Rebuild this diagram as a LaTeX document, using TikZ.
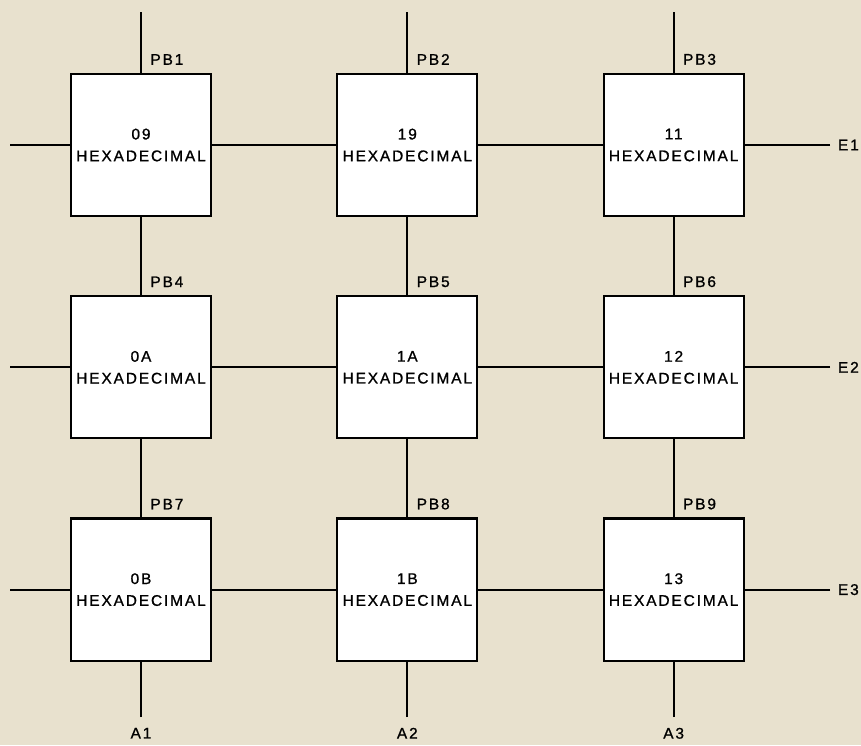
\documentclass[tikz,border=0pt]{standalone}
\usepackage{fontspec}
\newfontfamily\hexfont[LetterSpace=12,FakeBold=1]{Liberation Sans}
\usetikzlibrary{positioning}
\definecolor{paper}{RGB}{232,225,206}
\tikzset{hexbox/.style={draw,fill=white,line width=1.6pt,minimum width=3.5cm,minimum height=3.55cm,inner sep=0pt,align=center,font=\hexfont\fontsize{11}{15.5}\selectfont},
	lbl/.style={font=\hexfont\fontsize{11}{12}\selectfont,inner sep=1pt}}

\begin{document}
\begin{tikzpicture}[x=0.025cm,y=-0.025cm,line width=1.4pt,node distance=1.95cm and 3.1cm]
	\fill[paper] (0,0) rectangle (861,745);
	\useasboundingbox (0,0) rectangle (861,745);

	% the nine boxes
	\node[hexbox] (b09) at (141,145) {09\\HEXADECIMAL};
	\node[hexbox,right=of b09] (b19) {19\\HEXADECIMAL};
	\node[hexbox,right=of b19] (b11) {11\\HEXADECIMAL};
	\node[hexbox,below=of b09] (b0A) {0A\\HEXADECIMAL};
	\node[hexbox,right=of b0A] (b1A) {1A\\HEXADECIMAL};
	\node[hexbox,right=of b1A] (b12) {12\\HEXADECIMAL};
	\node[hexbox,below=of b0A] (b0B) {0B\\HEXADECIMAL};
	\node[hexbox,right=of b0B] (b1B) {1B\\HEXADECIMAL};
	\node[hexbox,right=of b1B] (b13) {13\\HEXADECIMAL};

	\draw (b09)--(b19)--(b11) (b0A)--(b1A)--(b12) (b0B)--(b1B)--(b13);
	\draw (b09)--(b0A)--(b0B) (b19)--(b1A)--(b1B) (b11)--(b12)--(b13);

	% free ends
	\coordinate (t1) at (b09.north |- 0,12);
	\coordinate (t2) at (b19.north |- 0,12);
	\coordinate (t3) at (b11.north |- 0,12);
	\coordinate (a1) at (b0B.south |- 0,717);
	\coordinate (a2) at (b1B.south |- 0,717);
	\coordinate (a3) at (b13.south |- 0,717);
	\coordinate (w1) at (b09.west -| 10,0);
	\coordinate (w2) at (b0A.west -| 10,0);
	\coordinate (w3) at (b0B.west -| 10,0);
	\coordinate (e1) at (b11.east -| 830,0);
	\coordinate (e2) at (b12.east -| 830,0);
	\coordinate (e3) at (b13.east -| 830,0);

	\draw (t1)--(b09.north) (t2)--(b19.north) (t3)--(b11.north);
	\draw (a1)--(b0B.south) (a2)--(b1B.south) (a3)--(b13.south);
	\draw (w1)--(b09.west) (w2)--(b0A.west) (w3)--(b0B.west);
	\draw (e1)--(b11.east) (e2)--(b12.east) (e3)--(b13.east);

	% labels
	\node[lbl,anchor=south west] (pb1) at ([xshift=5pt,yshift=4pt]b09.north) {PB1};
	\node[lbl,anchor=south west] (pb2) at ([xshift=5pt,yshift=4pt]b19.north) {PB2};
	\node[lbl,anchor=south west] (pb3) at ([xshift=5pt,yshift=4pt]b11.north) {PB3};
	\node[lbl,anchor=south west] (pb4) at ([xshift=5pt,yshift=4pt]b0A.north) {PB4};
	\node[lbl,anchor=south west] (pb5) at ([xshift=5pt,yshift=4pt]b1A.north) {PB5};
	\node[lbl,anchor=south west] (pb6) at ([xshift=5pt,yshift=4pt]b12.north) {PB6};
	\node[lbl,anchor=south west] (pb7) at ([xshift=5pt,yshift=4pt]b0B.north) {PB7};
	\node[lbl,anchor=south west] (pb8) at ([xshift=5pt,yshift=4pt]b1B.north) {PB8};
	\node[lbl,anchor=south west] (pb9) at ([xshift=5pt,yshift=4pt]b13.north) {PB9};
	\node[lbl,below=6pt of a1] (la1) {A1};
	\node[lbl,below=6pt of a2] (la2) {A2};
	\node[lbl,below=6pt of a3] (la3) {A3};
	\node[lbl,right=4pt of e1] (le1) {E1};
	\node[lbl,right=4pt of e2] (le2) {E2};
	\node[lbl,right=4pt of e3] (le3) {E3};
\end{tikzpicture}
\end{document}
